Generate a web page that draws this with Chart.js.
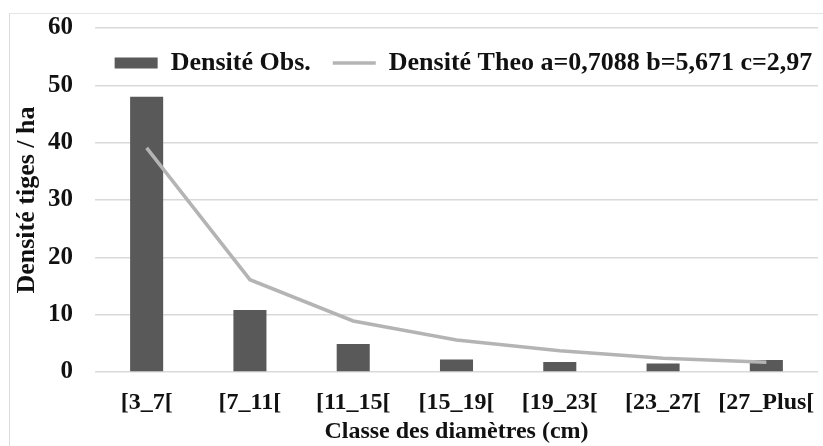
<!DOCTYPE html>
<html>
<head>
<meta charset="utf-8">
<script src="https://cdn.jsdelivr.net/npm/chart.js@4/dist/chart.umd.min.js"></script>
<style>
  html, body { margin: 0; padding: 0; background: #ffffff; }
  #wrap { position: relative; width: 823px; height: 446px; }
  #frame { position: absolute; left: 9px; top: 13px; right: 0; bottom: 0;
           border-left: 1px solid #dcdcdc; border-top: 1px solid #e4e4e4; pointer-events: none; }
  canvas { position: absolute; left: 0; top: 0; }
</style>
</head>
<body>
<div id="wrap">
  <canvas id="chart" width="823" height="446"></canvas>
  <div id="frame"></div>
</div>
<script>
// Diameter classes and stem densities per hectare
const classes = ['[3_7[', '[7_11[', '[11_15[', '[15_19[', '[19_23[', '[23_27[', '[27_Plus['];
const observedDensity = [48, 10.8, 4.9, 2.2, 1.75, 1.5, 2.1];
const theoreticalDensity = [39.1, 16.1, 8.9, 5.6, 3.7, 2.4, 1.7];
const yTicks = [0, 10, 20, 30, 40, 50, 60];

const serif = 'Liberation Serif';

// The legend sits inside the plot, between the two top grid lines,
// so it reserves no room in the layout and is moved after layout.
const legendInPlot = {
  id: 'legendInPlot',
  beforeInit(chart) {
    const legend = chart.legend;
    const fit = legend.fit;
    legend.fit = function () {
      fit.call(this);
      this._drawHeight = this.height;
      this.height = 0;
    };
  },
  afterLayout(chart) {
    const legend = chart.legend;
    legend.top = 28;
    legend.bottom = legend.top + legend._drawHeight;
    legend.left += 50;
    legend.right += 50;
  }
};

new Chart(document.getElementById('chart'), {
  type: 'bar',
  data: {
    labels: classes,
    datasets: [
      {
        type: 'bar',
        label: 'Densité Obs.',
        data: observedDensity,
        backgroundColor: '#595959',
        borderWidth: 0,
        categoryPercentage: 1,
        barPercentage: 0.32,
        pointStyle: 'rect',
        order: 1
      },
      {
        type: 'line',
        label: 'Densité Theo a=0,7088 b=5,671 c=2,97',
        data: theoreticalDensity,
        borderColor: '#b4b4b4',
        backgroundColor: '#b4b4b4',
        borderWidth: 3.5,
        pointRadius: 0,
        pointStyle: 'line',
        tension: 0,
        order: 0
      }
    ]
  },
  plugins: [legendInPlot],
  options: {
    responsive: false,
    animation: false,
    layout: { padding: { left: 9, right: 5, top: 28, bottom: 0 } },
    plugins: {
      tooltip: { enabled: false },
      legend: {
        position: 'top',
        align: 'center',
        labels: {
          usePointStyle: true,
          pointStyleWidth: 43,
          boxHeight: 11,
          padding: 22,
          color: '#111111',
          font: { family: serif, size: 26, weight: 'bold' },
          sort: (a, b) => a.datasetIndex - b.datasetIndex
        }
      }
    },
    scales: {
      x: {
        afterFit: (axis) => { axis.height = 74; },
        grid: { display: false },
        border: { display: false },
        ticks: {
          color: '#111111',
          padding: 8,
          maxRotation: 0,
          autoSkip: false,
          font: { family: serif, size: 24, weight: 'bold' }
        },
        title: {
          display: true,
          text: 'Classe des diamètres (cm)',
          color: '#111111',
          padding: { top: 4, bottom: 0 },
          font: { family: serif, size: 24, weight: 'bold' }
        }
      },
      y: {
        min: 0,
        max: 60,
        afterFit: (axis) => { axis.width = 86; axis.paddingTop = 0; },
        afterBuildTicks: (axis) => { axis.ticks = yTicks.map(v => ({ value: v })); },
        grid: { color: '#d9d9d9', lineWidth: 1.5, drawTicks: false },
        border: { display: false },
        ticks: {
          color: '#111111',
          padding: 22,
          font: { family: serif, size: 25, weight: 'bold' }
        },
        title: {
          display: true,
          text: 'Densité tiges / ha',
          color: '#111111',
          padding: { top: 3, bottom: 4 },
          font: { family: serif, size: 26, weight: 'bold' }
        }
      }
    }
  }
});
</script>
</body>
</html>
